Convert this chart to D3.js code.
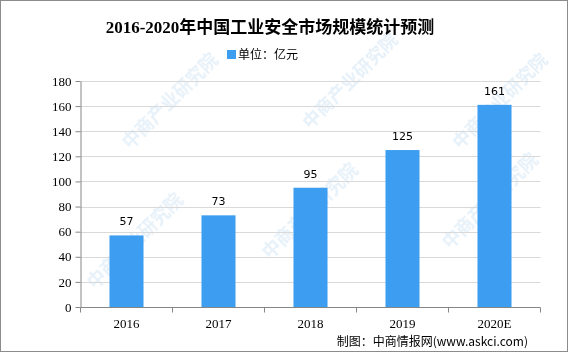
<!DOCTYPE html>
<html>
<head>
<meta charset="utf-8">
<style>
body { margin: 0; background: #fff; }
.grid line { stroke: #d9d9d9; }
.axis path, .axis line { stroke: #868686; }
.axis text { font: 13px "Liberation Serif", serif; fill: #000; }
.vlabel { font: 11px "DejaVu Sans", sans-serif; fill: #000; text-anchor: middle; }
</style>
</head>
<body>
<svg width="569" height="354"></svg>
<script src="https://cdn.jsdelivr.net/npm/d3@7"></script>
<script>
var years = ["2016", "2017", "2018", "2019", "2020E"];
var values = [57, 73, 95, 125, 161];
var yTicks = [0, 20, 40, 60, 80, 100, 120, 140, 160, 180];

var svg = d3.select("svg");
var mLeft = 80.5, mRight = 540.5, mTop = 81, mBottom = 307;

// frame
svg.append("rect").attr("x", 0.5).attr("y", 0.5).attr("width", 567).attr("height", 351)
  .attr("fill", "#fff").attr("stroke", "#8c8c8c");

// faint watermarks
var wm = svg.append("g").attr("fill", "#cfe3f3").attr("opacity", 0.5)
  .attr("font-family", "Noto Sans CJK SC").attr("font-size", 18).attr("font-weight", "bold");
[[95, 290], [270, 260], [450, 250], [130, 150], [310, 130], [460, 150]].forEach(function(p) {
  wm.append("text").attr("transform", "translate(" + p[0] + "," + p[1] + ") rotate(-45)").text("中商产业研究院");
});

var x = d3.scaleBand().domain(years).range([mLeft, mRight]).paddingInner(0.63).paddingOuter(0.315);
var xb = d3.scaleBand().domain(years).range([mLeft, mRight]);
var y = d3.scaleLinear().domain([0, 180]).range([mBottom, mTop]);

svg.append("g").attr("class", "grid").selectAll("line").data(yTicks.slice(1)).join("line")
  .attr("x1", mLeft).attr("x2", mRight)
  .attr("y1", function(d) { return Math.round(y(d)) + 0.5; })
  .attr("y2", function(d) { return Math.round(y(d)) + 0.5; });

svg.append("g").selectAll("rect").data(values).join("rect")
  .attr("x", function(d, i) { return x(years[i]); })
  .attr("width", x.bandwidth())
  .attr("y", function(d) { return y(d); })
  .attr("height", function(d) { return mBottom - y(d); })
  .attr("fill", "#3d9df0");

svg.append("g").selectAll("text").data(values).join("text")
  .attr("class", "vlabel")
  .attr("x", function(d, i) { return x(years[i]) + x.bandwidth() / 2; })
  .attr("y", function(d) { return y(d) - 10; })
  .text(function(d) { return d; });

svg.append("g").attr("class", "axis")
  .attr("transform", "translate(" + mLeft + ",0)")
  .call(d3.axisLeft(y).tickValues(yTicks).tickSize(5).tickSizeOuter(0))
  .call(function(g) { g.selectAll("text").attr("dx", "-1"); });

// x axis with ticks on band boundaries
var gx = svg.append("g").attr("class", "axis").attr("transform", "translate(0," + (mBottom + 0.5) + ")");
gx.append("line").attr("x1", mLeft).attr("x2", mRight);
gx.selectAll(".tk").data(years).join("line").attr("class", "tk")
  .attr("x1", function(d) { return xb(d) + xb.bandwidth(); })
  .attr("x2", function(d) { return xb(d) + xb.bandwidth(); })
  .attr("y1", 0).attr("y2", 5);
gx.append("line").attr("x1", mLeft).attr("x2", mLeft).attr("y1", 0).attr("y2", 5);
gx.selectAll("text").data(years).join("text")
  .attr("x", function(d) { return xb(d) + xb.bandwidth() / 2; })
  .attr("y", 20).attr("text-anchor", "middle").text(function(d) { return d; });

// title
svg.append("text").attr("x", 270).attr("y", 33).attr("text-anchor", "middle")
  .attr("font-family", "Liberation Serif, Noto Sans CJK SC").attr("font-size", 17).attr("font-weight", "bold")
  .text("2016-2020年中国工业安全市场规模统计预测");

// legend
svg.append("rect").attr("x", 227).attr("y", 50).attr("width", 9).attr("height", 9).attr("fill", "#3d9df0");
svg.append("text").attr("x", 238).attr("y", 59).attr("font-family", "Noto Sans CJK SC").attr("font-size", 12)
  .text("单位：亿元");

// source
svg.append("text").attr("x", 528).attr("y", 346).attr("text-anchor", "end")
  .attr("font-family", "Noto Sans CJK SC").attr("font-size", 12)
  .text("制图：中商情报网(www.askci.com)");
</script>
</body>
</html>
